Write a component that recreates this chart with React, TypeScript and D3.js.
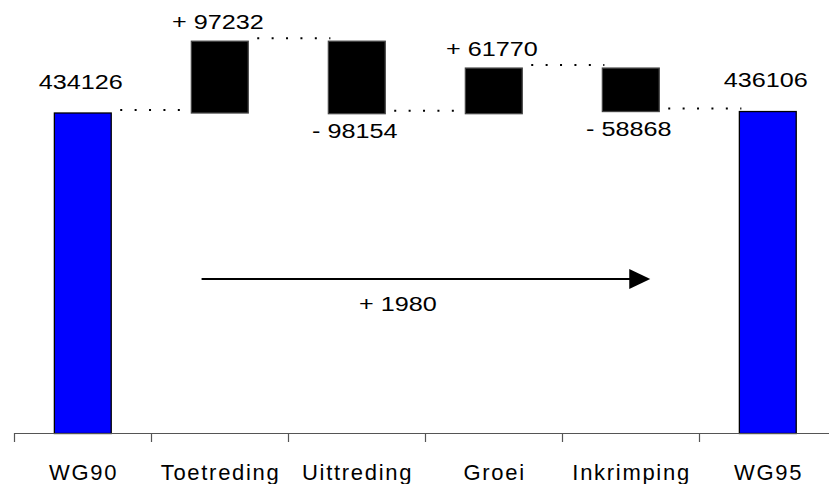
import React from "react";
import * as d3 from "d3";

const categories = ["WG90", "Toetreding", "Uittreding", "Groei", "Inkrimping", "WG95"];
const startTotal = 434126;
const changes = [97232, -98154, 61770, -58868];
const endTotal = 436106;
const netChange = 1980;

const W = 829;
const H = 484;

export default function App() {
  const x = d3.scaleBand<string>().domain(categories).range([14.3, 836.3]).paddingInner(0).paddingOuter(0);
  const y = d3.scaleLinear().domain([0, startTotal]).range([433.5, 113]);
  const step = x.step();
  const bw = step * 0.415;
  const cx = (c: string) => (x(c) as number) + step / 2;

  type Seg = { cat: string; lo: number; hi: number; kind: "total" | "pos" | "neg"; value: number };
  const segs: Seg[] = [];
  segs.push({ cat: categories[0], lo: 0, hi: startTotal, kind: "total", value: startTotal });
  let level = startTotal;
  changes.forEach((v, i) => {
    const next = level + v;
    segs.push({ cat: categories[i + 1], lo: Math.min(level, next), hi: Math.max(level, next), kind: v >= 0 ? "pos" : "neg", value: v });
    level = next;
  });
  segs.push({ cat: categories[5], lo: 0, hi: endTotal, kind: "total", value: endTotal });

  const levels: number[] = [startTotal];
  let lv = startTotal;
  changes.forEach((v) => { lv += v; levels.push(lv); });

  const font = "'Liberation Sans', Arial, sans-serif";

  const fmt = (s: Seg) => {
    if (s.kind === "total") return String(s.value);
    if (s.kind === "pos") return "+ " + s.value;
    return "- " + Math.abs(s.value);
  };

  const arrowY = 279;
  const arrowX0 = (x("Toetreding") as number) + step * 0.367;
  const arrowX1 = (x("Inkrimping") as number) + step * 0.642;

  const ValText = ({ px, py, t }: { px: number; py: number; t: string }) => (
    <text transform={`translate(${px},${py}) scale(1.2,1)`} x={0} y={0} textAnchor="middle" fontSize={21} fill="#000">
      {t}
    </text>
  );

  return (
    <svg width={W} height={H} style={{ position: "absolute", left: 0, top: 0, background: "#fff" }} fontFamily={font}>
      {levels.map((l, i) => {
        const x0 = cx(categories[i]) + bw / 2;
        const x1 = cx(categories[i + 1]) - bw / 2;
        const yy = y(l) - 3;
        return (
          <line key={"c" + i} x1={x0 + 9} x2={x1 + 2} y1={yy} y2={yy}
            stroke="#000" strokeWidth={2} strokeDasharray="2 12.4" />
        );
      })}
      {segs.map((s, i) => (
        <rect key={"b" + i} x={cx(s.cat) - bw / 2} y={y(s.hi)} width={bw} height={y(s.lo) - y(s.hi)}
          fill={s.kind === "total" ? "#0000ff" : "#000"} stroke={s.kind === "total" ? "#000" : "#444"} strokeWidth={1.3} />
      ))}
      {segs.map((s, i) => {
        let by: number;
        if (s.kind === "total") by = y(s.hi) - 24.5;
        else if (s.kind === "pos") by = y(s.hi) - 12;
        else by = y(s.lo) + 24;
        return <ValText key={"v" + i} px={cx(s.cat) - 2} py={by} t={fmt(s)} />;
      })}
      <line x1={14.3} x2={W} y1={433.5} y2={433.5} stroke="#555" strokeWidth={1.2} />
      {categories.map((c) => (
        <line key={"t" + c} x1={Math.round(x(c) as number) + 0.5} x2={Math.round(x(c) as number) + 0.5} y1={433} y2={442} stroke="#555" strokeWidth={1.2} />
      ))}
      {categories.map((c) => (
        <text key={"l" + c} x={cx(c) + 0.8} y={480} textAnchor="middle" fontSize={22} letterSpacing={1.7} fill="#000">
          {c}
        </text>
      ))}
      <line x1={arrowX0} x2={arrowX1 - 20} y1={arrowY} y2={arrowY} stroke="#000" strokeWidth={2} />
      <path d={`M${arrowX1},${arrowY} L${arrowX1 - 21},${arrowY - 10} L${arrowX1 - 21},${arrowY + 10} Z`} fill="#000" />
      <ValText px={(arrowX0 + arrowX1) / 2 - 28} py={311} t={"+ " + netChange} />
    </svg>
  );
}
